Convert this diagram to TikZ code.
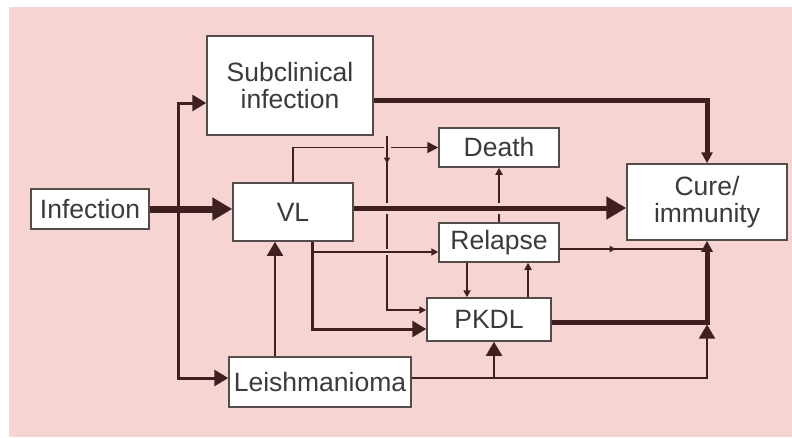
\documentclass[tikz,border=0pt]{standalone}
\usepackage{fontspec}
\setmainfont{Liberation Sans}
\usetikzlibrary{arrows.meta,decorations.markings}
\definecolor{bgpink}{RGB}{246,212,210}
\definecolor{linebrown}{RGB}{62,32,32}
\definecolor{boxgray}{RGB}{85,75,75}
\definecolor{textgray}{RGB}{60,58,58}
\tikzset{
	box/.style={draw=boxgray, fill=white, line width=1.5pt, inner sep=0pt, align=center, text=textgray, font=\fontsize{26.5}{27}\selectfont},
	heavy/.style={draw=linebrown, line width=5pt},
	medium/.style={draw=linebrown, line width=3pt},
	light/.style={draw=linebrown, line width=1.8pt},
	bigtip/.style={-{Triangle[length=20pt,width=22pt]}},
	midtip/.style={-{Triangle[length=14pt,width=16pt]}},
	smalltip/.style={-{Triangle[length=11pt,width=11pt]}},
	tinytip/.style={-{Triangle[length=7pt,width=7pt]}},
	halo/.style={preaction={draw=bgpink, line width=#1, -}},
	midmark/.style={postaction={decorate, decoration={markings, mark=at position #1 with {\arrow{Triangle[length=6pt,width=6pt]}}}}},
}
\begin{document}
\begin{tikzpicture}[x=1pt, y=-1pt]
	\useasboundingbox (0,0) rectangle (792,437);
	\fill[bgpink] (9,7) rectangle (792,437);
	% boxes
	\node[box, minimum width=166pt, minimum height=99pt] (sub) at (290,85.5) {Subclinical\\infection};
	\node[box, minimum width=118pt, minimum height=40pt] (inf) at (90,209) {Infection};
	\node[box, minimum width=120pt, minimum height=58pt] (vl) at (293,212) {VL};
	\node[box, minimum width=120pt, minimum height=39pt] (death) at (499,147.5) {Death};
	\node[box, minimum width=160pt, minimum height=76pt] (cure) at (707,202) {Cure/\\immunity};
	\node[box, minimum width=120pt, minimum height=39pt] (relapse) at (499,242.5) {Relapse};
	\node[box, minimum width=124pt, minimum height=43pt] (pkdl) at (489,319.5) {PKDL};
	\node[box, minimum width=182pt, minimum height=50pt] (leish) at (320,382) {Leishmanioma};
	% helper points
	\coordinate (split) at (178,209);
	\coordinate (subdown) at ([xshift=97pt]sub.south);
	\coordinate (vldown) at ([xshift=19pt]vl.south);
	\coordinate (rp) at ([xshift=-32pt]relapse.south);
	\coordinate (pr) at ([xshift=39pt]pkdl.north);
	\coordinate (pkdlout) at ([yshift=-2.5pt]pkdl.east);
	\coordinate (join) at (cure.south |- pkdlout);
	\coordinate (leishout) at ([yshift=4pt]leish.east);
	\coordinate (lk) at ([xshift=5pt]pkdl.south);
	\coordinate (lv) at ([xshift=-45pt]leish.north);
	% connectors
	\draw[heavy, line width=7pt, bigtip] (inf.east) -- (inf.east -| vl.west);
	\draw[medium, midtip] (split) |- ([yshift=-17.5pt]sub.west);
	\draw[medium, midtip] (split) |- (leishout -| leish.west);
	\draw[heavy, smalltip] ([yshift=-14.5pt]sub.east) -| (cure.north);
	\draw[light, smalltip] (vl.north) |- (death.west);
	\draw[light, tinytip] (relapse.north) -- (death.south);
	\draw[light, tinytip, halo=7pt, midmark=0.13] (subdown) |- ([yshift=9.5pt]pkdl.west);
	\draw[heavy, bigtip, halo=11pt] ([yshift=4pt]vl.east) -- ([yshift=4pt]vl.east -| cure.west);
	\draw[light, tinytip, halo=6pt] (vldown) |- ([yshift=-9.5pt]relapse.west);
	\draw[medium, midtip] (vldown) |- ([yshift=-9.5pt]pkdl.west);
	\draw[light, tinytip] (rp) -- (rp |- pkdl.north);
	\draw[light, tinytip] (pr) -- (pr |- relapse.south);
	\draw[light, midmark=0.38] ([yshift=-6.5pt]relapse.east) -- ([yshift=-6.5pt]relapse.east -| cure.south);
	\draw[heavy, smalltip] (pkdlout) -| (cure.south);
	\draw[light, midtip] (lv) -- (lv |- vl.south);
	\draw[light, midtip, shorten >=2.5pt] (leishout) -| (join);
	\draw[light, midtip] (leishout -| lk) -- (lk);
\end{tikzpicture}
\end{document}
